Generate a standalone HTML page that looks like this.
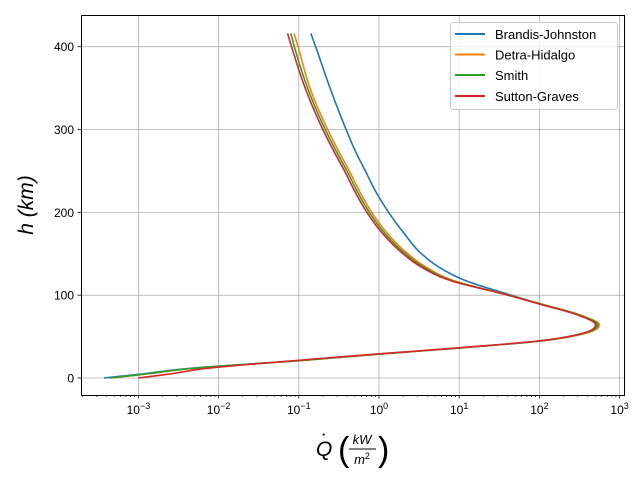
<!DOCTYPE html>
<html><head><meta charset="utf-8"><style>
body{margin:0;background:#fff;}
svg{display:block;font-family:"Liberation Sans","DejaVu Sans",sans-serif;}
</style></head><body>
<svg id="chart" width="640" height="480">
<rect width="640" height="480" fill="#fff"/>
<g id="grid"></g>
<g id="series"></g>
<rect x="81.5" y="15.5" width="543" height="380" fill="none" stroke="#000" stroke-width="1"/>
<g id="ticks"></g>
<text transform="translate(33,205) rotate(-90)" text-anchor="middle" font-size="21" font-style="italic">h (km)</text>
<g>
<text x="316" y="456" font-size="21" font-style="italic">Q</text>
<text x="321" y="450" font-size="22">˙</text>
<text x="338" y="461" font-size="34" font-weight="200">(</text>
<text x="362" y="444" font-size="13" font-style="italic" text-anchor="middle">kW</text>
<line x1="349" x2="376" y1="449" y2="449" stroke="#000" stroke-width="1"/>
<text x="362" y="464" font-size="13" font-style="italic" text-anchor="middle">m<tspan font-size="9" dy="-5" font-style="normal">2</tspan></text>
<text x="378" y="461" font-size="34" font-weight="200">)</text>
</g>
<g>
<rect x="450.5" y="22.5" width="167" height="87" rx="3" fill="#fff" fill-opacity="0.8" stroke="#ccc"/>
<line x1="455" x2="485" y1="34" y2="34" stroke="#1f77b4" stroke-width="2"/><text x="495" y="39" font-size="13">Brandis-Johnston</text>
<line x1="455" x2="485" y1="54.5" y2="54.5" stroke="#ff7f0e" stroke-width="2"/><text x="495" y="59.5" font-size="13">Detra-Hidalgo</text>
<line x1="455" x2="485" y1="75" y2="75" stroke="#2ca02c" stroke-width="2"/><text x="495" y="80" font-size="13">Smith</text>
<line x1="455" x2="485" y1="96" y2="96" stroke="#d62728" stroke-width="2"/><text x="495" y="101" font-size="13">Sutton-Graves</text>
</g>
</svg>
<script>
const hValues=[0,5,11,21,29,36.5,45,53,64,76,89,100,118,135,150,175,200,225,250,275,300,350,400,416];
const brandisLogQ=[-3.43,-2.95,-2.43,-1.0,0.02,1.03,2.03,2.51,2.72,2.49,2.03,1.65,1.07,0.73,0.53,0.31,0.12,-0.04,-0.17,-0.30,-0.41,-0.61,-0.79,-0.85];
const detraLogQ=[-3.35,-2.88,-2.38,-0.98,0.03,1.04,2.05,2.54,2.75,2.51,2.04,1.62,0.92,0.57,0.36,0.10,-0.09,-0.24,-0.37,-0.51,-0.64,-0.86,-1.01,-1.06];
const smithLogQ=[-3.35,-2.9,-2.4,-0.99,0.02,1.03,2.04,2.52,2.73,2.5,2.03,1.61,0.90,0.54,0.33,0.07,-0.12,-0.27,-0.40,-0.54,-0.67,-0.89,-1.055,-1.10];
const suttonLogQ=[-3.0,-2.6,-2.2,-1.05,-0.02,1.0,2.01,2.5,2.70,2.48,2.01,1.61,0.88,0.51,0.30,0.04,-0.15,-0.30,-0.43,-0.57,-0.70,-0.92,-1.09,-1.14];
const xDecades=[-3,-2,-1,0,1,2,3];
const yTicks=[0,100,200,300,400];
const NS='http://www.w3.org/2000/svg';
const X=l=>379+(l)*80.2;
const Y=h=>378-h*0.8283;
const grid=document.getElementById('grid'),ticks=document.getElementById('ticks'),ser=document.getElementById('series');
function mk(t,a,p){const e=document.createElementNS(NS,t);for(const k in a)e.setAttribute(k,a[k]);p.appendChild(e);return e;}
xDecades.forEach(d=>{
 const g=mk('line',{x1:X(d),x2:X(d),y1:15,y2:395,stroke:'#b0b0b0','stroke-width':0.8},grid);
 
 
 mk('line',{x1:X(d),x2:X(d),y1:395,y2:398.5,stroke:'#000','stroke-width':0.8},ticks);
 const t=mk('text',{x:X(d),y:414,'font-size':12,'text-anchor':'middle'},ticks);
 
 
 t.textContent='10';
 const s=mk('tspan',{dy:-5,'font-size':9},t);s.textContent=String(d).replace('-','−');
});
for(let d=-4;d<=3;d++)for(let m=2;m<=9;m++){const x=X(d+Math.log10(m));if(x>81&&x<625)mk('line',{x1:x,x2:x,y1:395,y2:397,stroke:'#000','stroke-width':0.6},ticks);}
yTicks.forEach(v=>{
 const g=mk('line',{x1:81,x2:625,y1:Y(v),y2:Y(v),stroke:'#b0b0b0','stroke-width':0.8},grid);
 
 
 mk('line',{x1:77.5,x2:81,y1:Y(v),y2:Y(v),stroke:'#000','stroke-width':0.8},ticks);
 const t=mk('text',{x:74,y:Y(v)+4.5,'font-size':12,'text-anchor':'end'},ticks);
 
 
 t.textContent=v;
});
function path(arr){
 const n=hValues.length,m=[];
 for(let i=0;i<n;i++){
  if(i===0)m.push((arr[1]-arr[0])/(hValues[1]-hValues[0]));
  else if(i===n-1)m.push((arr[i]-arr[i-1])/(hValues[i]-hValues[i-1]));
  else{const h0=hValues[i]-hValues[i-1],h1=hValues[i+1]-hValues[i],d0=(arr[i]-arr[i-1])/h0,d1=(arr[i+1]-arr[i])/h1;m.push((d0*h1+d1*h0)/(h0+h1));}
 }
 let d='M'+X(arr[0])+','+Y(hValues[0]);
 for(let i=0;i<n-1;i++){
  const h=hValues[i+1]-hValues[i],steps=Math.max(4,Math.ceil(h));
  for(let s=1;s<=steps;s++){
   const t=s/steps,t2=t*t,t3=t2*t;
   const v=(2*t3-3*t2+1)*arr[i]+(t3-2*t2+t)*h*m[i]+(-2*t3+3*t2)*arr[i+1]+(t3-t2)*h*m[i+1];
   d+=' L'+X(v).toFixed(2)+','+Y(hValues[i]+t*h).toFixed(2);
  }
 }
 return d;
}
[[brandisLogQ,'#1f77b4','brandis-johnston-line'],[detraLogQ,'#ff7f0e','detra-hidalgo-line'],[smithLogQ,'#2ca02c','smith-line'],[suttonLogQ,'#d62728','sutton-graves-line']].forEach(s=>{
 const e=mk('path',{d:path(s[0]),fill:'none',stroke:s[1],'stroke-width':1.6,'stroke-linejoin':'round'},ser);
 
 
});
</script>
</body></html>
